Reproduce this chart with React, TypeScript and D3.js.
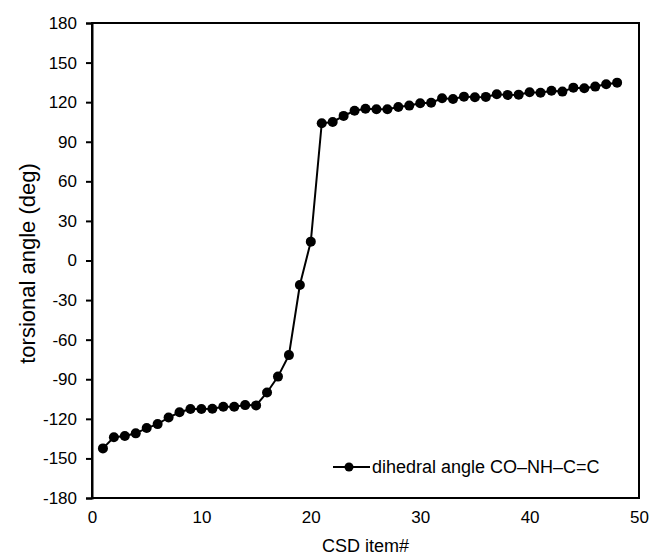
import React, { useEffect, useRef } from "react";
import * as d3 from "d3";

const items: number[] = Array.from({ length: 48 }, (_, i) => i + 1);
const angles: number[] = [
  -142.4, -134, -133, -131, -127, -124, -119, -115, -112.6, -112.6,
  -112.4, -110.8, -110.8, -109.6, -109.8, -100, -88, -71.7, -18.6, 14.3,
  104, 105, 109.6, 113.5, 115, 114.6, 114.6, 116.4, 117.4, 119.2,
  119.6, 123, 122.4, 124.2, 123.7, 124, 126, 125.5, 125.7, 127.5,
  127.2, 128.7, 128, 131, 130.5, 131.8, 133.6, 134.8,
];
const yTicks: number[] = [-180, -150, -120, -90, -60, -30, 0, 30, 60, 90, 120, 150, 180];
const xTicks: number[] = [0, 10, 20, 30, 40, 50];
const seriesName = "dihedral angle CO\u2013NH\u2013C=C";
const xTitle = "CSD item#";
const yTitle = "torsional angle (deg)";

const W = 649;
const H = 559;
const M = { left: 92, right: 649 - 639, top: 23, bottom: 559 - 498 };
const FONT = "'Liberation Sans', Arial, sans-serif";

export default function App() {
  const ref = useRef<SVGSVGElement | null>(null);

  useEffect(() => {
    const svg = d3.select(ref.current);
    svg.selectAll("*").remove();

    const x = d3.scaleLinear().domain([0, 50]).range([M.left, W - M.right]);
    const y = d3.scaleLinear().domain([-180, 180]).range([H - M.bottom, M.top]);

    svg.append("rect").attr("width", W).attr("height", H).attr("fill", "#fff");

    // frame
    svg
      .append("rect")
      .attr("x", x(0))
      .attr("y", y(180))
      .attr("width", x(50) - x(0))
      .attr("height", y(-180) - y(180))
      .attr("fill", "none")
      .attr("stroke", "#000")
      .attr("stroke-width", 2);

    // y axis
    const yAxis = d3
      .axisLeft(y)
      .tickValues(yTicks)
      .tickFormat((d) => String(d))
      .tickSize(6)
      .tickPadding(9);
    const gy = svg.append("g").attr("transform", `translate(${x(0)},0)`).call(yAxis);
    gy.select(".domain").attr("stroke-width", 2);
    gy.selectAll(".tick line").attr("stroke-width", 2);
    gy.selectAll("text").attr("font-family", FONT).attr("font-size", 17).attr("fill", "#000");

    // x axis (labels only)
    const xAxis = d3
      .axisBottom(x)
      .tickValues(xTicks)
      .tickFormat((d) => String(d))
      .tickSize(0)
      .tickPadding(13);
    const gx = svg.append("g").attr("transform", `translate(0,${y(-180)})`).call(xAxis);
    gx.select(".domain").remove();
    gx.selectAll("text").attr("font-family", FONT).attr("font-size", 17).attr("fill", "#000");

    // titles
    svg
      .append("text")
      .attr("x", (x(0) + x(50)) / 2)
      .attr("y", 552)
      .attr("text-anchor", "middle")
      .attr("font-family", FONT)
      .attr("font-size", 18)
      .text(xTitle);
    svg
      .append("text")
      .attr("transform", `translate(35,${(y(180) + y(-180)) / 2 + 3}) rotate(-90)`)
      .attr("text-anchor", "middle")
      .attr("font-family", FONT)
      .attr("font-size", 22)
      .text(yTitle);

    // series
    const pts = items.map((d, i) => [d, angles[i]] as [number, number]);
    const line = d3
      .line<[number, number]>()
      .x((d) => x(d[0]))
      .y((d) => y(d[1]));
    svg
      .append("path")
      .attr("d", line(pts) as string)
      .attr("fill", "none")
      .attr("stroke", "#000")
      .attr("stroke-width", 2);
    svg
      .append("g")
      .selectAll("circle")
      .data(pts)
      .join("circle")
      .attr("cx", (d) => x(d[0]))
      .attr("cy", (d) => y(d[1]))
      .attr("r", 5)
      .attr("fill", "#000");

    // legend
    const lg = svg.append("g").attr("transform", "translate(333,467)");
    lg.append("line").attr("x1", 0).attr("x2", 37).attr("y1", 0).attr("y2", 0).attr("stroke", "#000").attr("stroke-width", 2);
    lg.append("circle").attr("cx", 16).attr("cy", 0).attr("r", 4.5).attr("fill", "#000");
    lg.append("text")
      .attr("x", 39)
      .attr("y", 6)
      .attr("font-family", FONT)
      .attr("font-size", 18)
      .text(seriesName);
  }, []);

  return (
    <svg
      ref={ref}
      width={W}
      height={H}
      style={{ position: "absolute", left: 0, top: 0, display: "block" }}
    />
  );
}
